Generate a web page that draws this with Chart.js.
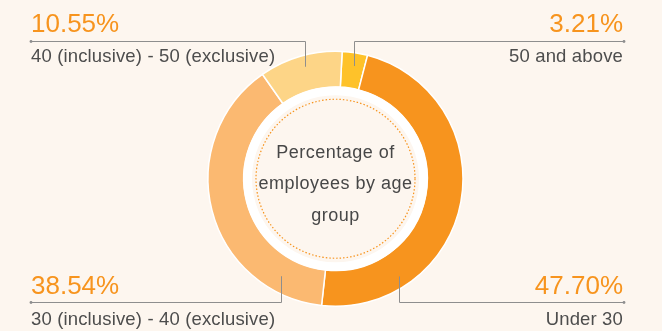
<!DOCTYPE html>
<html>
<head>
<meta charset="utf-8">
<script src="https://cdn.jsdelivr.net/npm/chart.js@4.4.1/dist/chart.umd.min.js"></script>
<style>
  html, body { margin: 0; padding: 0; background: #FDF6EF; }
  canvas { display: block; }
</style>
</head>
<body>
<canvas id="ageChart" width="662" height="331"></canvas>
<script>
// Employee age structure (share of headcount, %)
const ageGroups = ['50 and above', 'Under 30', '30 (inclusive) - 40 (exclusive)', '40 (inclusive) - 50 (exclusive)'];
const shares = [3.21, 47.70, 38.54, 10.55];
const sliceColors = ['#FEC22A', '#F7941E', '#FBB971', '#FDD587'];
const centerTitle = ['Percentage of', 'employees by age', 'group'];

// Callout placement: which corner each slice is labelled in, and where
// along / across the slice the leader line touches it.
const callouts = [
  { index: 3, side: 'left',  row: 'top',    along: 0.52,  depth: 0.68 },
  { index: 0, side: 'right', row: 'top',    along: 0.56,  depth: 0.63 },
  { index: 1, side: 'right', row: 'bottom', along: 0.77,  depth: 0.70 },
  { index: 2, side: 'left',  row: 'bottom', along: 0.166, depth: 0.56 }
];
const rows = {
  top:    { value: 32,  rule: 41.5,  name: 62 },
  bottom: { value: 294, rule: 302.5, name: 325 }
};
const sides = {
  left:  { x: 31,  dot: 31,  align: 'left' },
  right: { x: 623, dot: 624, align: 'right' }
};

const FONT = '"Liberation Sans", Arial, Helvetica, sans-serif';

const ringDecor = {
  id: 'ringDecor',
  afterDatasetsDraw(chart) {
    const ctx = chart.ctx;
    const arcs = chart.getDatasetMeta(0).data;
    const a0 = arcs[0];
    const cx = a0.x, cy = a0.y, rIn = a0.innerRadius;

    // white band inside the ring
    ctx.save();
    ctx.beginPath();
    ctx.arc(cx, cy, rIn + 0.5, 0, Math.PI * 2);
    ctx.arc(cx, cy, 83.5, 0, Math.PI * 2, true);
    ctx.fillStyle = '#FFFFFF';
    ctx.fill();

    // dotted inner circle
    ctx.beginPath();
    ctx.arc(cx, cy, 79.5, 0, Math.PI * 2);
    ctx.setLineDash([1.5, 2]);
    ctx.lineWidth = 1.2;
    ctx.strokeStyle = '#F7941E';
    ctx.stroke();
    ctx.setLineDash([]);

    // centre title
    ctx.fillStyle = '#474747';
    ctx.font = '18px ' + FONT;
    ctx.letterSpacing = '0.5px';
    ctx.textAlign = 'center';
    ctx.textBaseline = 'alphabetic';
    const baselines = [157.5, 189.3, 220.8];
    centerTitle.forEach((t, i) => ctx.fillText(t, cx, baselines[i]));

    // callouts
    callouts.forEach(c => {
      const arc = arcs[c.index];
      const ang = arc.startAngle + (arc.endAngle - arc.startAngle) * c.along;
      const rad = arc.innerRadius + (arc.outerRadius - arc.innerRadius) * c.depth;
      const px = Math.round(arc.x + Math.cos(ang) * rad) + 0.5;
      const py = arc.y + Math.sin(ang) * rad;
      const row = rows[c.row];
      const side = sides[c.side];

      ctx.strokeStyle = '#8E8E8E';
      ctx.lineWidth = 1;
      ctx.beginPath();
      ctx.moveTo(px, py);
      ctx.lineTo(px, row.rule);
      ctx.lineTo(side.dot, row.rule);
      ctx.stroke();
      ctx.beginPath();
      ctx.arc(side.dot, row.rule, 1.4, 0, Math.PI * 2);
      ctx.fillStyle = '#8E8E8E';
      ctx.fill();

      ctx.textAlign = side.align;
      ctx.letterSpacing = '0px';
      ctx.fillStyle = '#F7941E';
      ctx.font = '26px ' + FONT;
      ctx.fillText(shares[c.index].toFixed(2) + '%', side.x, row.value);

      ctx.letterSpacing = '0.15px';
      ctx.fillStyle = '#4D4D4D';
      ctx.font = '18.5px ' + FONT;
      ctx.fillText(ageGroups[c.index], side.x, row.name);
    });
    ctx.restore();
  }
};

new Chart(document.getElementById('ageChart'), {
  type: 'doughnut',
  data: {
    labels: ageGroups,
    datasets: [{
      data: shares,
      backgroundColor: sliceColors,
      borderColor: '#FFFFFF',
      borderWidth: 1.5
    }]
  },
  options: {
    responsive: false,
    animation: false,
    events: [],
    rotation: 3,
    cutout: '72%',
    layout: { padding: { top: 50.5, bottom: 24, left: 9, right: 0 } },
    plugins: {
      legend: { display: false },
      tooltip: { enabled: false }
    }
  },
  plugins: [ringDecor]
});
</script>
</body>
</html>
